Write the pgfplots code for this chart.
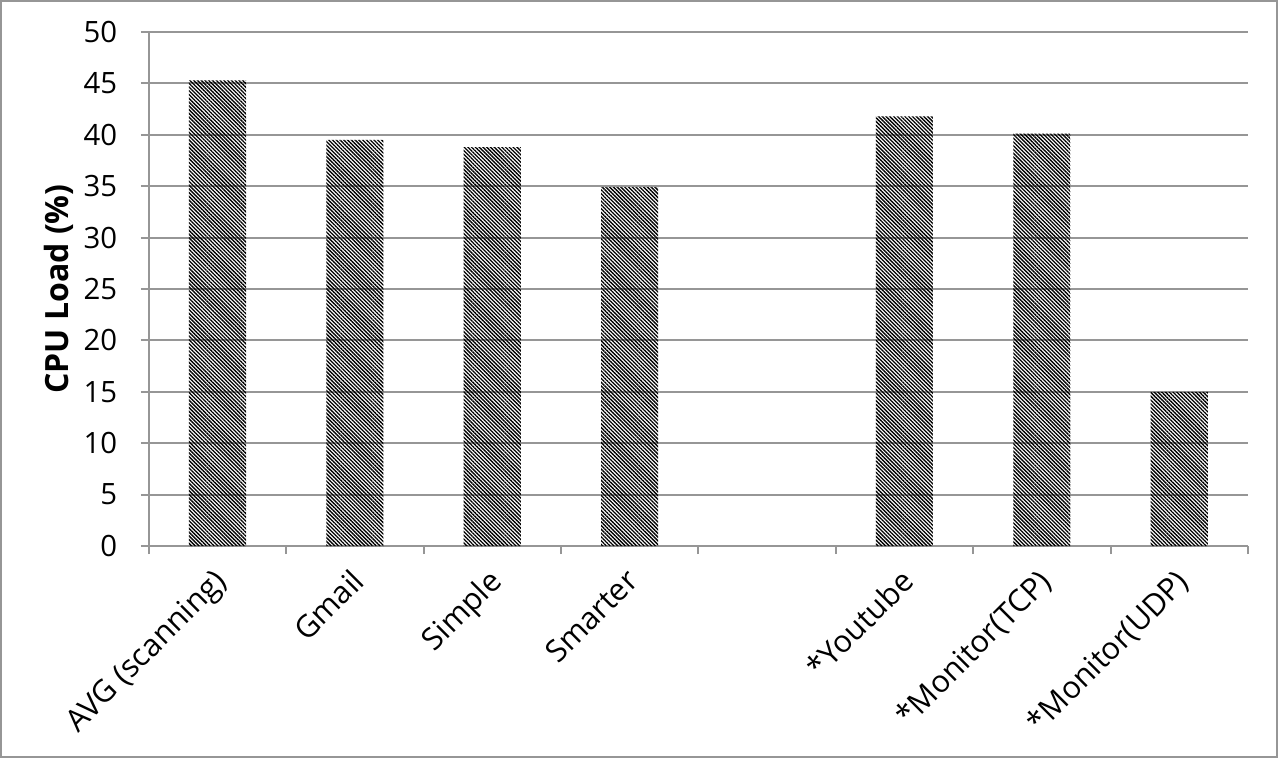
\documentclass[border=0pt]{standalone}
\usepackage{fontspec}
\setmainfont{Open Sans}
\usepackage{pgfplots}
\pgfplotsset{compat=1.18}
\usetikzlibrary{patterns.meta}
\definecolor{gridgray}{RGB}{150,150,150}

\pgfplotstableread{
x   load
0   45.3
1   39.5
2   38.8
3   34.9
5   41.8
6   40.1
7   15.0
}\cpuload

\begin{document}
\fontsize{11pt}{13pt}\selectfont
\begin{tikzpicture}
\begin{axis}[
    at={(0,0)}, anchor=south west,
    scale only axis,
    width=412.1pt, height=192.75pt,
    ybar, bar width=21.4pt,
    xmin=-0.5, xmax=7.5,
    ymin=0, ymax=50,
    ytick={0,5,...,50},
    xtick={0,...,7},
    xticklabels={AVG (scanning),Gmail,Simple,Smarter,,*Youtube,*Monitor(TCP),*Monitor(UDP)},
    minor xtick={-0.5,0.5,...,7.5},
    major x tick style={draw=none},
    tick align=outside,
    major tick length=3pt, minor tick length=3pt,
    axis x line*=bottom, axis y line*=left,
    axis line style={gridgray, line width=0.75pt},
    every tick/.style={gridgray, line width=0.75pt},
    ymajorgrids, major grid style={gridgray, line width=0.75pt},
    /pgf/number format/assume math mode=true,
    tick label style={font=\fontsize{11pt}{13pt}\selectfont, black},
    yticklabel style={xshift=-5pt},
    xticklabel style={font=\fontsize{11.5pt}{13pt}\selectfont, xshift=-2pt, yshift=0.5pt, rotate=45, anchor=north east},
    ylabel={\bfseries CPU Load (\%)},
    ylabel style={at={(axis description cs:-0.082,0.5)}, anchor=center, font=\fontsize{12pt}{14pt}\selectfont},
]
\addplot[draw=none, pattern={Lines[angle=-45, distance=1pt, line width=0.5pt]}, pattern color=black]
    table[x=x, y=load] {\cpuload};
\end{axis}
\draw[gridgray, line width=0.75pt] (-55.4pt,-79.1pt) rectangle (423pt,204.35pt);
\end{tikzpicture}
\end{document}
